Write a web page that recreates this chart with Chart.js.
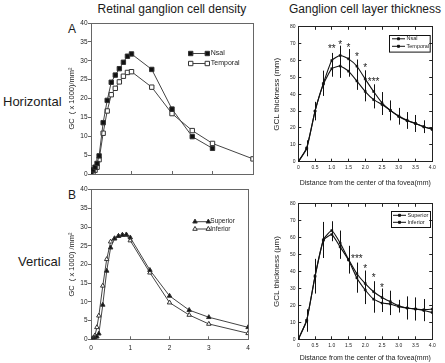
<!DOCTYPE html>
<html>
<head>
<meta charset="utf-8">
<script src="https://cdn.jsdelivr.net/npm/chart.js@4.4.0/dist/chart.umd.min.js"></script>
<style>
  body { margin: 0; background: #fff; }
  #fig { position: relative; width: 445px; height: 363px; overflow: hidden;
         font-family: 'Liberation Sans', Arial, Helvetica, sans-serif; color: #1a1a1a; }
  #fig canvas { position: absolute; }
  .lbl { position: absolute; white-space: nowrap; line-height: 1; }
</style>
</head>
<body>
<div id="fig">
  <div class="lbl" style="left:72px;top:3px;width:200px;text-align:center;font-size:12px">Retinal ganglion cell density</div>
  <div class="lbl" style="left:265px;top:3px;width:200px;text-align:center;font-size:12px">Ganglion cell layer thickness</div>
  <div class="lbl" style="left:3px;top:95px;font-size:13px">Horizontal</div>
  <div class="lbl" style="left:18px;top:254.5px;font-size:13px">Vertical</div>
  <div class="lbl" style="left:68px;top:23px;font-size:12px">A</div>
  <div class="lbl" style="left:68px;top:189px;font-size:12px">B</div>

  <canvas id="densH" width="196" height="175" style="left:62px;top:15px"></canvas>
  <canvas id="densV" width="196" height="175" style="left:62px;top:182px"></canvas>
  <canvas id="gclH" width="174" height="172" style="left:268px;top:18px"></canvas>
  <canvas id="gclV" width="174" height="168" style="left:268px;top:195px"></canvas>
</div>

<script>
/* ---- data ---- */
// retinal ganglion cell density, x = distance (mm), y = GC (x1000)/mm2
const densX = [0, 0.05, 0.1, 0.15, 0.2, 0.3, 0.4, 0.5, 0.6, 0.7, 0.8, 0.9, 1, 1.5, 2, 2.5, 3, 4];
const nsalDensity     = [0.4, 1.1, 1.8, 2.8, 4.8, 13.6, 19.5, 24.3, 26.2, 27.9, 29.6, 31.2, 31.8, 27.7, 17.2, 9.9, 6.8];
const temporalDensity = [0.1, 0.5, 1.0, 1.8, 3.8, 10.8, 16.7, 21.0, 22.7, 24.4, 25.9, 26.9, 27.1, 23.0, 16.0, 11.5, 8.1, 4.0];
const superiorDensity = [0, 0.1, 0.4, 0.7, 1.5, 9.2, 18.3, 24.5, 26.9, 27.6, 27.9, 28.0, 27.2, 18.5, 11.6, 7.8, 5.9, 3.2];
const inferiorDensity = [0, 0.3, 1.0, 3.2, 6.3, 14.3, 21.4, 26.1, 27.0, 27.6, 27.9, 27.9, 26.4, 17.8, 9.8, 6.5, 4.1, 1.6];

// ganglion cell layer thickness, mean and SD
const gclX = [0, 0.25, 0.5, 0.75, 1, 1.25, 1.5, 1.75, 2, 2.25, 2.5, 2.75, 3, 3.25, 3.5, 3.75, 4];
const nsalGcl     = [0, 7.7, 30, 46.5, 60, 63, 61, 56.6, 49, 41.6, 34.9, 30.4, 27.1, 24.6, 22.7, 20.7, 19.2];
const nsalSd      = [0, 4.5, 5.5, 7.5, 4.5, 5.8, 5.8, 4, 5.2, 4.3, 6.4, 5.8, 4.8, 4.8, 5, 3.7, 0];
const temporalGcl = [0, 8.2, 30, 46, 55.2, 56.7, 53.7, 47.8, 41.6, 36.8, 33.9, 30.4, 26.8, 24.3, 22.7, 20.7, 19.2];
const temporalSd  = [0, 4.5, 5, 5, 4.8, 7, 3.3, 5.2, 5.8, 5.2, 6.2, 5.8, 4.8, 4.8, 5, 3.7, 0];
const superiorGcl = [0, 11.1, 37.5, 58.8, 64.2, 56.8, 47.2, 38.7, 32.9, 28.1, 24.7, 22.2, 19.8, 18.5, 17.9, 17.0, 15.8];
const superiorSd  = [0, 6.5, 10, 10.5, 5.5, 7.4, 8, 6.6, 7.7, 6.2, 5.3, 6.5, 3.5, 6.7, 6.7, 6.3, 0];
const inferiorGcl = [0, 11.1, 37, 58.5, 61.9, 54.5, 46.8, 36.2, 29.1, 23.7, 21.4, 20.8, 19.3, 18.5, 17.9, 17.5, 17.8];
const inferiorSd  = [0, 6.5, 10, 10.5, 4, 7, 8, 8.7, 8.3, 8, 5.3, 6.5, 3.5, 6.7, 6.7, 6.3, 0];

// significance marks
const starsHX   = [1.0, 1.25, 1.5, 1.75, 2.0, 2.25];
const starsHY   = [68.4, 71.1, 69.1, 63.9, 57.1, 49];
const starsHTxt = ['**', '*', '*', '*', '*', '***'];
const starsVX   = [1.75, 2.0, 2.25, 2.5];
const starsVY   = [49.2, 43, 37.8, 32];
const starsVTxt = ['***', '*', '*', '*'];

const plotFont = "'Liberation Sans', Arial, Helvetica, sans-serif";
const ink = '#222';

function pts(xs, ys) {
    return ys.map((y, i) => ({ x: xs[i], y: y }));
}

function mark(ctx, style, r, x, y, fill, stroke) {
    ctx.fillStyle = fill;
    ctx.strokeStyle = stroke;
    ctx.lineWidth = 1;
    Chart.helpers.drawPoint(ctx, { pointStyle: style, radius: r, rotation: 0, borderWidth: 1 }, x, y);
}

/* error bars, stars and the legend inside the plot */
const extras = {
    id: 'extras',
    afterDatasetsDraw(chart, args, opts) {
        const { ctx, chartArea: a, scales: { x, y } } = chart;
        ctx.save();
        chart.data.datasets.forEach(ds => {
            if (!ds.errorBars) return;
            ctx.strokeStyle = ds.borderColor;
            ctx.lineWidth = 1;
            ds.data.forEach((p, i) => {
                const e = ds.errorBars[i];
                if (!e) return;
                const px = Math.round(x.getPixelForValue(p.x)) + 0.5;
                ctx.beginPath();
                ctx.moveTo(px, y.getPixelForValue(p.y - e));
                ctx.lineTo(px, y.getPixelForValue(p.y + e));
                ctx.stroke();
            });
        });

        if (opts.stars) {
            const s = opts.stars;
            ctx.fillStyle = ink;
            ctx.font = s.size + 'px ' + plotFont;
            ctx.textAlign = 'center';
            ctx.textBaseline = 'alphabetic';
            s.x.forEach((v, i) => {
                ctx.fillText(s.text[i], x.getPixelForValue(v), y.getPixelForValue(s.y[i]) + 0.57 * s.size);
            });
        }

        if (opts.legend) {
            const L = opts.legend;
            if (L.box) {
                ctx.strokeStyle = '#111';
                ctx.lineWidth = 1;
                ctx.strokeRect(Math.round(a.left + L.box[0]) + 0.5, Math.round(a.top + L.box[1]) + 0.5, L.box[2], L.box[3]);
            }
            ctx.font = L.size + 'px ' + plotFont;
            ctx.textAlign = 'left';
            ctx.textBaseline = 'middle';
            chart.data.datasets.forEach((ds, i) => {
                const ry = a.top + L.y + i * L.gap;
                const x1 = a.left + L.x, x2 = x1 + L.len;
                ctx.strokeStyle = ds.borderColor;
                ctx.lineWidth = 1;
                ctx.beginPath();
                ctx.moveTo(x1, ry);
                ctx.lineTo(x2, ry);
                ctx.stroke();
                const ends = L.mid ? [(x1 + x2) / 2] : [x1, x2];
                ends.forEach(mx => mark(ctx, ds.pointStyle, ds.pointRadius, mx, ry, ds.pointBackgroundColor, ds.pointBorderColor));
                ctx.fillStyle = ink;
                ctx.fillText(ds.label, x2 + L.textGap, ry);
            });
        }
        ctx.restore();
    }
};

function axes(p) {
    const tickFont = { family: plotFont, size: p.tickSize };
    return {
        x: {
            type: 'linear', position: 'bottom', min: 0, max: 4,
            ticks: { stepSize: p.xStep, display: p.xLabels, font: tickFont, color: ink,
                     padding: p.xLabelPad, maxRotation: 0, autoSkip: false },
            grid: { drawOnChartArea: false, tickLength: -3, color: p.frame },
            border: { color: p.frame, width: 1 },
            title: p.xTitle
                ? { display: true, text: p.xTitle, color: ink, font: { family: plotFont, size: 7 },
                    padding: { top: 0, bottom: p.xTitlePad } }
                : { display: false },
            afterFit: s => { s.height = p.xH; }
        },
        y: {
            type: 'linear', position: 'left', min: 0, max: p.yMax,
            ticks: { stepSize: p.yStep, font: tickFont, color: ink, padding: p.yLabelPad },
            grid: { drawOnChartArea: false, tickLength: p.yTick, color: p.frame },
            border: { color: p.frame, width: 1 },
            title: { display: true, text: p.yTitle, color: ink, font: { family: plotFont, size: p.yTitleSize },
                     padding: { top: p.yTitlePad, bottom: 0 } },
            afterFit: s => { s.width = p.yW; }
        },
        x2: {
            type: 'linear', position: 'top', min: 0, max: 4,
            ticks: { stepSize: p.xStep, display: false },
            grid: { drawOnChartArea: false, drawTicks: p.boxTicks, tickLength: -3, color: p.frame },
            border: { color: p.frame, width: 1 },
            afterFit: s => { s.height = 0; }
        },
        y2: {
            type: 'linear', position: 'right', min: 0, max: p.yMax,
            ticks: { stepSize: p.yStep, display: false },
            grid: { drawOnChartArea: false, drawTicks: p.boxTicks, tickLength: -3, color: p.frame },
            border: { color: p.frame, width: 1 },
            afterFit: s => { s.width = 0; }
        }
    };
}

function densitySet(label, values, style, r, filled) {
    return {
        label: label,
        data: pts(densX, values),
        borderColor: '#444',
        borderWidth: 1,
        pointStyle: style,
        pointRadius: r,
        pointBorderWidth: 1,
        pointBorderColor: '#333',
        pointBackgroundColor: filled ? '#111' : '#fff',
        tension: 0
    };
}

function gclSet(label, values, sd) {
    return {
        label: label,
        data: pts(gclX, values),
        errorBars: sd,
        borderColor: '#111',
        borderWidth: 1.1,
        pointStyle: 'rect',
        pointRadius: 1.4,
        pointBorderWidth: 0.5,
        pointBorderColor: '#111',
        pointBackgroundColor: '#111',
        tension: 0.15
    };
}

function baseOptions(pad, scales, extra) {
    return {
        responsive: false,
        animation: false,
        devicePixelRatio: 1,
        layout: { padding: { left: 0, top: pad.top, right: pad.right, bottom: 0 } },
        scales: scales,
        plugins: { legend: { display: false }, tooltip: { enabled: false }, extras: extra }
    };
}

/* A: horizontal density */
new Chart(document.getElementById('densH'), {
    type: 'line',
    data: { datasets: [
        densitySet('Nsal', nsalDensity, 'rect', 3.1, true),
        densitySet('Temporal', temporalDensity, 'rect', 3.1, false)
    ] },
    options: baseOptions({ top: 8, right: 5 },
        axes({ xH: 16, yW: 29, xStep: 1, yMax: 40, yStep: 5, tickSize: 6.5, xLabels: false, xLabelPad: 0,
               yTick: 3, yLabelPad: 0.5, yTitle: 'GC  ( x 1000)/mm²', yTitleSize: 7.5, yTitlePad: 5.2,
               frame: '#666', boxTicks: false }),
        { legend: { x: 99.7, y: 30.5, gap: 10, len: 16.6, textGap: 3.5, size: 7 } }),
    plugins: [extras]
});

/* B: vertical density */
new Chart(document.getElementById('densV'), {
    type: 'line',
    data: { datasets: [
        densitySet('Superior', superiorDensity, 'triangle', 2.6, true),
        densitySet('Inferior', inferiorDensity, 'triangle', 2.6, false)
    ] },
    options: baseOptions({ top: 7.7, right: 5 },
        axes({ xH: 17.7, yW: 29, xStep: 1, yMax: 40, yStep: 5, tickSize: 6.5, xLabels: true, xLabelPad: 8.1,
               yTick: 3, yLabelPad: 0.5, yTitle: 'GC  ( x 1000) /mm²', yTitleSize: 7.5, yTitlePad: 5.2,
               frame: '#666', boxTicks: false }),
        { legend: { x: 104, y: 32, gap: 7.3, len: 13.3, textGap: 2, size: 6.5 } }),
    plugins: [extras]
});

/* horizontal GCL thickness */
new Chart(document.getElementById('gclH'), {
    type: 'line',
    data: { datasets: [
        gclSet('Nsal', nsalGcl, nsalSd),
        gclSet('Temporal', temporalGcl, temporalSd)
    ] },
    options: baseOptions({ top: 6, right: 5.3 },
        axes({ xH: 28.3, yW: 30.3, xStep: 0.5, yMax: 80, yStep: 10, tickSize: 5, xLabels: true, xLabelPad: 6.3,
               yTick: -3, yLabelPad: 5.8, yTitle: 'GCL thickness (mm)', yTitleSize: 8, yTitlePad: 3.9,
               xTitle: 'Distance from the center of tha fovea(mm)', xTitlePad: 2.5,
               frame: '#222', boxTicks: true }),
        { legend: { box: [91, 7.7, 40.7, 16.6], x: 93.7, y: 12, gap: 7.5, len: 13, mid: true, textGap: 1.5, size: 5.5 },
          stars: { x: starsHX, y: starsHY, text: starsHTxt, size: 10 } }),
    plugins: [extras]
});

/* vertical GCL thickness */
new Chart(document.getElementById('gclV'), {
    type: 'line',
    data: { datasets: [
        gclSet('Superior', superiorGcl, superiorSd),
        gclSet('Inferior', inferiorGcl, inferiorSd)
    ] },
    options: baseOptions({ top: 6, right: 5.3 },
        axes({ xH: 23.7, yW: 30.3, xStep: 0.5, yMax: 80, yStep: 10, tickSize: 5, xLabels: true, xLabelPad: 6.3,
               yTick: -3, yLabelPad: 5.8, yTitle: 'GCL thickness (μm)', yTitleSize: 8, yTitlePad: 3.9,
               xTitle: 'Distance from the center of tha fovea(mm)', xTitlePad: 1,
               frame: '#222', boxTicks: true }),
        { legend: { box: [92.7, 7.3, 39, 16], x: 94.7, y: 11.5, gap: 7, len: 13, mid: true, textGap: 1.5, size: 5.5 },
          stars: { x: starsVX, y: starsVY, text: starsVTxt, size: 10 } }),
    plugins: [extras]
});
</script>
</body>
</html>
